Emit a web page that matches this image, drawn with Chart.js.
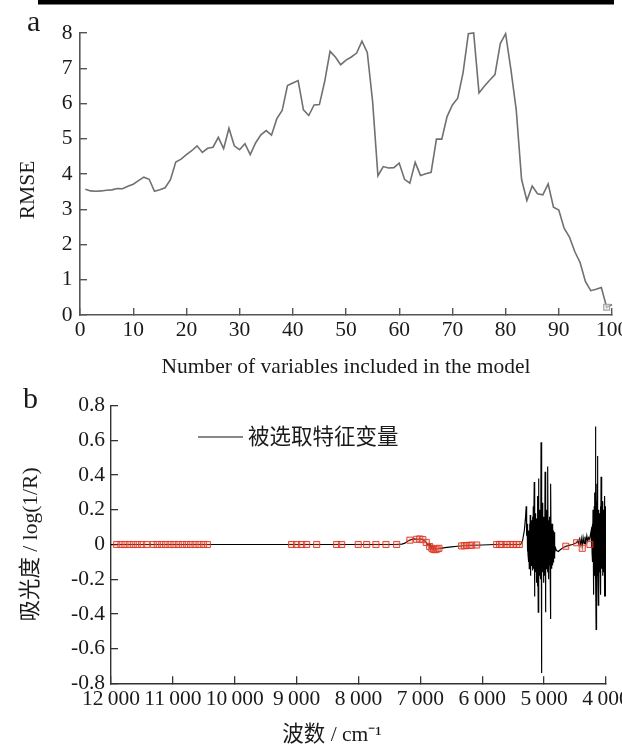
<!DOCTYPE html>
<html><head><meta charset="utf-8">
<script src="https://cdn.jsdelivr.net/npm/chart.js@4.4.0/dist/chart.umd.min.js"></script>
<style>
html,body{margin:0;padding:0;background:#fff;}
#wrap{position:relative;width:622px;height:747px;overflow:hidden;background:#fff;}
canvas{position:absolute;left:0;}
#ca{top:0;} #cb{top:380px;}
</style></head><body>
<div id="wrap"><canvas id="ca" width="622" height="380"></canvas><canvas id="cb" width="622" height="367"></canvas></div>
<script>
// ---------- Panel a data ----------
const numVars = [1,2,3,4,5,6,7,8,9,10,11,12,13,14,15,16,17,18,19,20,
  21,22,23,24,25,26,27,28,29,30,31,32,33,34,35,36,37,38,39,40,
  41,42,43,44,45,46,47,48,49,50,51,52,53,54,55,56,57,58,59,60,
  61,62,63,64,65,66,67,68,69,70,71,72,73,74,75,76,77,78,79,80,
  81,82,83,84,85,86,87,88,89,90,91,92,93,94,95,96,97,98,99,100];
const rmseValues = [3.57,3.52,3.51,3.52,3.54,3.55,3.59,3.58,3.65,3.71,
  3.81,3.91,3.85,3.51,3.55,3.61,3.84,4.34,4.42,4.55,
  4.66,4.80,4.61,4.73,4.76,5.04,4.72,5.30,4.80,4.69,
  4.86,4.55,4.88,5.11,5.23,5.10,5.57,5.80,6.51,6.58,
  6.65,5.82,5.66,5.96,5.97,6.63,7.48,7.32,7.10,7.23,
  7.32,7.43,7.77,7.45,6.06,3.95,4.21,4.17,4.18,4.31,
  3.85,3.74,4.33,3.96,4.01,4.05,4.99,4.99,5.63,5.96,
  6.15,6.87,7.98,8.00,6.30,6.49,6.66,6.82,7.70,7.98,
  6.96,5.82,3.85,3.25,3.66,3.44,3.41,3.72,3.06,2.98,
  2.46,2.21,1.80,1.49,0.95,0.69,0.73,0.78,0.22,0.30];
const bestNumVars = [99];
const bestRmse = [0.22];
const numVarTicks = [0,10,20,30,40,50,60,70,80,90,100];
const rmseTicks = [0,1,2,3,4,5,6,7,8];

// ---------- Panel b data ----------
const specWn = [12000,11000,10000,9000,8000,7400,7300,7250,7200,7150,
  7100,7050,7000,6960,6930,6900,6880,6860,6845,6830,
  6815,6800,6790,6775,6760,6745,6730,6710,6680,6600,
  6500,6400,6300,6200,6000,5800,5500,5380,5350,5320,
  5300,5290,
  5285,5280,5275,5270,5265,5260,5255,5250,5245,5240,
  5235,5230,5225,5220,5215,5210,5205,5200,5195,5190,
  5185,5180,5175,5170,5165,5160,5155,5150,5145,5140,
  5135,5130,5125,5120,5115,5110,5105,5100,5095,5090,
  5085,5080,5075,5070,5065,5060,5055,5050,5045,5040,
  5035,5030,5025,5020,5015,5010,5005,5000,4995,4990,
  4985,4980,4975,4970,4965,4960,4955,4950,4945,4940,
  4935,4930,4925,4920,4915,4910,4905,4900,4895,4890,
  4885,4880,4875,4870,4865,4860,4855,4850,4845,4840,
  4835,4830,4825,4815,4800,4770,4740,4700,4660,4600,
  4540,4480,4460,4445,4430,4415,4400,4385,4370,4355,
  4340,4325,4310,4295,4280,4265,4250,
  4240,4235,4230,4225,4220,4215,4210,4205,4200,4195,
  4190,4185,4180,4175,4170,4165,4160,4155,4150,4145,
  4140,4135,4130,4125,4120,4115,4110,4105,4100,4095,
  4090,4085,4080,4075,4070,4065,4060,4055,4050,4045,
  4040,4035,4030,4025,4020,4015,4010,4005,4000];
const specAbs = [0,0,0,0,0,0,0.002,0.008,0.02,0.028,
  0.032,0.03,0.032,0.028,0.02,0.01,-0.005,0.005,-0.015,-0.005,
  -0.025,-0.012,-0.03,-0.018,-0.032,-0.02,-0.028,-0.022,-0.022,-0.018,
  -0.014,-0.01,-0.007,-0.005,-0.003,0,0,0,0.02,0.08,
  0.16,0.22,
  0.20,0.05,0.12,-0.04,0.10,-0.06,0.08,-0.10,0.06,-0.14,
  0.12,-0.08,0.17,-0.18,0.10,-0.12,0.14,-0.08,0.12,-0.15,
  0.16,-0.10,0.22,-0.14,0.12,0.36,-0.30,0.10,-0.12,0.18,
  -0.16,0.12,-0.22,0.15,-0.10,0.28,-0.24,0.16,-0.39,0.38,
  -0.12,0.14,-0.18,0.20,-0.10,0.12,-0.20,0.59,-0.15,-0.74,
  0.18,-0.12,0.24,-0.16,0.12,-0.22,0.16,-0.10,0.14,-0.18,
  0.42,-0.12,-0.39,0.15,-0.14,0.20,-0.08,0.12,-0.16,0.45,
  -0.10,0.14,-0.20,0.10,-0.12,0.16,-0.06,0.12,-0.43,0.35,
  -0.10,0.12,-0.14,0.10,-0.12,0.12,-0.10,0.08,-0.10,0.07,
  -0.08,0.04,-0.05,-0.02,-0.035,-0.04,-0.03,-0.02,-0.012,-0.005,
  0,0.01,0.02,0.005,0.03,0,0.035,-0.01,0.04,0.005,
  0.045,0.01,0.05,0.02,0.04,0.03,0.06,
  0.08,-0.02,0.10,-0.05,0.12,-0.10,0.20,-0.29,0.15,-0.12,
  0.22,-0.18,0.30,-0.15,0.68,-0.20,-0.49,0.25,-0.14,0.35,
  -0.18,0.51,-0.12,-0.35,0.20,-0.10,0.18,-0.16,0.14,-0.12,
  0.22,-0.29,0.39,-0.14,0.16,-0.10,0.25,-0.18,0.12,-0.08,
  0.20,-0.16,0.10,-0.30,0.28,-0.12,0.22,-0.30,0.21];
const selWn = [11908,11838,11774,11704,11640,11575,11504,11423,11316,11251,
  11180,11116,11046,10982,10912,10847,10776,10712,10642,10577,
  10507,10443,
  9080,9000,8919,8838,8676,8353,8272,8004,7868,7718,7556,7383,
  7170,7060,7010,6960,6905,6850,6815,6790,6760,6730,6700,
  6333,6290,6252,6210,6171,6090,
  5767,5720,5686,5606,5552,5498,5444,5400,
  4650,4475,4384,4260];
const selAbs = [0,0,0,0,0,0,0,0,0,0,
  0,0,0,0,0,0,0,0,0,0,
  0,0,
  0,0,0,0,0,0,0,0,0,0,0,0,
  0.025,0.03,0.032,0.028,0.012,-0.012,-0.022,-0.028,-0.03,-0.026,-0.022,
  -0.008,-0.007,-0.006,-0.005,-0.004,-0.003,
  0,0,0,0,0,0,0,0,
  -0.01,0.01,-0.022,0];
const waveTicks = [12000,11000,10000,9000,8000,7000,6000,5000,4000];
const waveTickLabels = ['12\u2009000','11\u2009000','10\u2009000','9\u2009000','8\u2009000','7\u2009000','6\u2009000','5\u2009000','4\u2009000'];
const absTicks = [0.8,0.6,0.4,0.2,0,-0.2,-0.4,-0.6,-0.8];
const absTickLabels = ['0.8','0.6','0.4','0.2','0','-0.2','-0.4','-0.6','-0.8'];

const panelALetter = 'a', panelBLetter = 'b';
const xTitleA = 'Number of variables included in the model';
const yTitleA = 'RMSE';
const xTitleB = '波数 / cm\u207B\u00B9';
const yTitleB = '吸光度 / log(1/R)';
const legendLabelB = '被选取特征变量';

const FS = 21.5;
Chart.defaults.font.family = "'Liberation Serif','Noto Sans CJK SC',serif";
Chart.defaults.font.size = FS;
Chart.defaults.color = '#1a1a1a';

function fixY(w){ return function(s){ s.width = w; s.paddingTop = 0; s.paddingBottom = 0; }; }
function fixX(h){ return function(s){ s.height = h; s.paddingLeft = 0; s.paddingRight = 0; }; }

const decoA = {
  id: 'decoA',
  afterDraw(chart){
    const c = chart.ctx;
    c.save();
    c.fillStyle = '#000';
    c.fillRect(38, 0, 576, 4.5);
    c.fillStyle = '#1a1a1a';
    c.font = "30px 'Liberation Serif'";
    c.textAlign = 'left'; c.textBaseline = 'alphabetic';
    c.fillText(panelALetter, 27, 31);
    c.font = FS + "px 'Liberation Serif'";
    c.translate(28, 190); c.rotate(-Math.PI/2);
    c.textAlign = 'center'; c.textBaseline = 'middle';
    c.fillText(yTitleA, 0, 0);
    c.restore();
  }
};

new Chart(document.getElementById('ca'), {
  type: 'line',
  data: {
    datasets: [
      { label: 'min', data: bestNumVars.map((v,i)=>({x:v,y:bestRmse[i]})), showLine:false,
        pointStyle:'rect', pointRadius:4.2, borderColor:'#a8a8a8', backgroundColor:'rgba(230,230,230,0.6)', borderWidth:1.2 },
      { label: 'RMSE', data: numVars.map((v,i)=>({x:v,y:rmseValues[i]})), borderColor:'#707070',
        borderWidth:1.6, pointRadius:0, tension:0, fill:false, clip:4 }
    ]
  },
  options: {
    responsive:false, animation:false, devicePixelRatio:1,
    layout:{ padding:{ left:0, right:10, top:33, bottom:0 } },
    plugins:{ legend:{display:false}, tooltip:{enabled:false} },
    scales:{
      x:{ type:'linear', min:0, max:100,
        afterFit: fixX(65),
        border:{ display:true, color:'#555', width:1.6 },
        grid:{ drawOnChartArea:false, drawTicks:true, tickLength:-7, color:'#555', lineWidth:1.4 },
        ticks:{ stepSize:10, padding:9.1, maxRotation:0, autoSkip:false,
          callback:(v)=> numVarTicks.includes(v) ? String(v) : '' },
        title:{ display:true, text:xTitleA, font:{size:FS}, padding:{top:0,bottom:0.1} }
      },
      y:{ type:'linear', min:0, max:8,
        afterFit: fixY(80),
        border:{ display:true, color:'#555', width:1.6 },
        grid:{ drawOnChartArea:false, drawTicks:true, tickLength:-7, color:'#555', lineWidth:1.4 },
        ticks:{ stepSize:1, padding:14.5,
          callback:(v)=> rmseTicks.includes(v) ? String(v) : '' }
      }
    }
  },
  plugins:[decoA]
});

const decoB = {
  id: 'decoB',
  afterDraw(chart){
    const c = chart.ctx;
    c.save();
    c.fillStyle = '#1a1a1a';
    c.font = "30px 'Liberation Serif'";
    c.textAlign = 'left'; c.textBaseline = 'alphabetic';
    c.fillText(panelBLetter, 23, 28);
    c.strokeStyle = '#111'; c.lineWidth = 1.2;
    c.beginPath(); c.moveTo(198, 57); c.lineTo(243, 57); c.stroke();
    c.font = "21.5px 'Noto Sans CJK SC'";
    c.textBaseline = 'middle';
    c.fillText(legendLabelB, 248, 56);
    c.font = FS + "px 'Liberation Serif','Noto Sans CJK SC'";
    c.textAlign = 'center';
    c.fillText(xTitleB, 332, 355);
    c.restore();
  }
};

new Chart(document.getElementById('cb'), {
  type: 'line',
  data: {
    datasets: [
      { label: legendLabelB, data: selWn.map((v,i)=>({x:v,y:selAbs[i]})), showLine:false,
        pointStyle:'rect', pointRadius:4.3, borderColor:'rgba(228,50,30,0.9)', backgroundColor:'rgba(245,140,120,0.25)', borderWidth:1 },
      { label: 'spectrum', data: specWn.map((v,i)=>({x:v,y:specAbs[i]})), borderColor:'#000',
        borderWidth:1.15, pointRadius:0, tension:0, fill:false }
    ]
  },
  options: {
    responsive:false, animation:false, devicePixelRatio:1,
    layout:{ padding:{ left:0, right:16, top:25.7, bottom:0 } },
    plugins:{ legend:{display:false}, tooltip:{enabled:false} },
    scales:{
      x:{ type:'linear', min:4000, max:12000, reverse:true,
        afterFit: fixX(63.7),
        border:{ display:true, color:'#333', width:1.4 },
        grid:{ drawOnChartArea:false, drawTicks:true, tickLength:-7, color:'#333', lineWidth:1.3 },
        ticks:{ stepSize:1000, padding:9.8, maxRotation:0, autoSkip:false,
          callback:(v)=>{ const i = waveTicks.indexOf(v); return i>=0 ? waveTickLabels[i] : ''; } },
        title:{ display:false, text:xTitleB }
      },
      y:{ type:'linear', min:-0.8, max:0.8,
        afterFit: fixY(111),
        border:{ display:true, color:'#333', width:1.4 },
        grid:{ drawOnChartArea:false, drawTicks:true, tickLength:-7, color:'#333', lineWidth:1.3 },
        ticks:{ stepSize:0.2, padding:13,
          callback:(v)=>{ const i = absTicks.findIndex(t=>Math.abs(t-v)<1e-6); return i>=0 ? absTickLabels[i] : ''; } },
        title:{ display:true, text:yTitleB, font:{size:FS}, padding:{top:18.1,bottom:0} }
      }
    }
  },
  plugins:[decoB]
});
</script>
</body></html>
